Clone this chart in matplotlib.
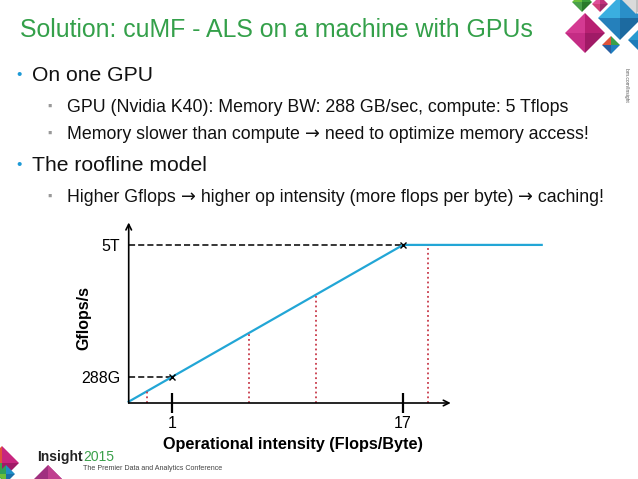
import matplotlib
matplotlib.use('Agg')
import matplotlib.pyplot as plt
from matplotlib.patches import Polygon

plt.rcParams['font.family'] = ['Liberation Sans', 'DejaVu Sans']

# roofline data (Flops/Byte, Gflops/s)
bw_point = (1, 288)
ridge_point = (17, 5000)
tick_vals = [1, 17]
tick_labels = ['1', '17']
ytick_vals = [288, 5000]
ytick_labels = ['288G', '5T']
line_x = [-2, 17, 26.6]
samples_x = [-0.7, 6.3, 11.0, 18.7]

slope = (ridge_point[1] - bw_point[1]) / (ridge_point[0] - bw_point[0])


def roof(x):
    return min(ridge_point[1], bw_point[1] + (x - bw_point[0]) * slope)


fig = plt.figure(figsize=(6.38, 4.79), dpi=100)

# slide layer in pixel coords
bg = fig.add_axes([0, 0, 1, 1])
bg.set_xlim(0, 638)
bg.set_ylim(479, 0)
bg.axis('off')

bg.text(20, 30, 'Solution: cuMF - ALS on a machine with GPUs', color='#34a04a',
        fontsize=17.9, va='center', ha='left')

bullets = [
    (75, 'On one GPU', 0),
    (107, 'GPU (Nvidia K40): Memory BW: 288 GB/sec, compute: 5 Tflops', 1),
    (134, 'Memory slower than compute \u2192 need to optimize memory access!', 1),
    (165, 'The roofline model', 0),
    (197, 'Higher Gflops \u2192 higher op intensity (more flops per byte) \u2192 caching!', 1),
]


def line_text(x, y, txt, size):
    # arrows drawn in DejaVu Sans, chained after the previous piece
    parts = txt.split('\u2192')
    prev = bg.text(x, y, parts[0], color='#111111', fontsize=size, va='baseline')
    for p in parts[1:]:
        arr = bg.annotate('\u2192', xy=(1, 0), xycoords=prev, va='bottom', ha='left',
                          fontsize=size, color='#111111', family='DejaVu Sans')
        prev = bg.annotate(p, xy=(1, 0), xycoords=arr, va='bottom', ha='left',
                           fontsize=size, color='#111111')


for y, txt, lvl in bullets:
    if lvl == 0:
        bg.text(16, y, '\u2022', color='#1e9ad6', fontsize=11, va='center')
        line_text(32, y + 6, txt, 15.2)
    else:
        bg.text(47, y, '\u25aa', color='#999999', fontsize=9, va='center')
        line_text(67, y + 5, txt, 12.8)


# decorative faceted diamonds for the logos
def diamond(cx, cy, r, colors):
    pts = [(cx - r, cy), (cx, cy - r), (cx + r, cy), (cx, cy + r)]
    for i, c in enumerate(colors):
        bg.add_patch(Polygon([(cx, cy), pts[i], pts[(i + 1) % 4]], closed=True,
                             color=c, lw=0))


diamond(585, 33, 20, ['#d43a92', '#b82072', '#a01a66', '#c42c84'])
diamond(620, 18, 22, ['#3aaee0', '#2a8fc8', '#1c6aa0', '#2580bb'])
diamond(611, 45, 9, ['#e0533a', '#3aa04a', '#1f7fc0', '#2a5fa0'])
diamond(582, 2, 10, ['#6cbf3a', '#3a9a3a', '#2a7a2a', '#4aa04a'])
diamond(600, 4, 8, ['#e0509a', '#c0307a', '#a02a6a', '#d0407a'])
diamond(636, 0, 14, ['#e8e8e8', '#d0d0d0', '#c0c0c0', '#dadada'])
diamond(638, 40, 10, ['#2a9ad0', '#1a6fa8', '#145a8a', '#1d7ab8'])
bg.text(626, 85, 'ibm.com/Insight', color='#555555', fontsize=3.5, rotation=270,
        va='center', ha='center')

diamond(2, 463, 17, ['#e0533a', '#c8267f', '#a01a66', '#3aa04a'])
diamond(6, 474, 9, ['#2fa05a', '#1f8fc8', '#1a6fa8', '#6cbf3a'])
bg.add_patch(Polygon([(34, 479), (48, 465), (62, 479)], closed=True, color='#a0307f', lw=0))
bg.add_patch(Polygon([(48, 465), (62, 479), (48, 479)], closed=True, color='#c0408f', lw=0))
bg.text(37, 457, 'Insight', color='#222222', fontsize=10, fontweight='bold', va='center')
bg.text(83, 457, '2015', color='#3aa04a', fontsize=10, va='center')
bg.text(83, 469, 'The Premier Data and Analytics Conference', color='#444444',
        fontsize=5.1, va='center')

# roofline chart
ax = fig.add_axes([128.7 / 638, 76 / 479, 413 / 638, 180.5 / 479])
ax.set_xlim(-2, 26.6)
ax.set_ylim(-643, 5800)
for s in ax.spines.values():
    s.set_visible(False)
ax.patch.set_alpha(0)

ax.annotate('', xy=(20.3, -643), xytext=(-2, -643),
            arrowprops=dict(arrowstyle='->', color='black', lw=1.2, shrinkA=0, shrinkB=0))
ax.annotate('', xy=(-2, 5800), xytext=(-2, -643),
            arrowprops=dict(arrowstyle='->', color='black', lw=1.2, shrinkA=0, shrinkB=0))

ax.set_xticks(tick_vals)
ax.set_xticklabels(tick_labels, fontsize=11.5)
ax.tick_params(axis='x', direction='inout', length=14, width=1.6, pad=2)
ax.set_yticks(ytick_vals)
ax.set_yticklabels(ytick_labels, fontsize=11.5)
ax.tick_params(axis='y', length=0, pad=6)

ax.plot([-2, bw_point[0]], [bw_point[1]] * 2, color='black', ls='--', lw=1.1, dashes=(4, 2))
ax.plot([-2, 25.3], [ridge_point[1]] * 2, color='black', ls='--', lw=1.1, dashes=(4, 2))

ax.plot(line_x, [roof(x) for x in line_x], color='#22a6d6', lw=1.6, clip_on=False)

for x in samples_x:
    ax.plot([x, x], [-643, roof(x)], color='#c83a4a', ls=':', lw=1.3)

ax.plot(*zip(bw_point, ridge_point), ls='none', marker='x', color='black', ms=4.5, mew=1.0)

ax.set_xlabel('Operational intensity (Flops/Byte)', fontsize=11.7, fontweight='bold')
ax.set_ylabel('Gflops/s', fontsize=11.5, fontweight='bold')
ax.xaxis.set_label_coords((293 - 128.7) / 413, -(437 - 403) / 180.5)
ax.yaxis.set_label_coords(-(129 - 92) / 413, (403 - 318) / 180.5)

fig.savefig('out.png', dpi=100)
